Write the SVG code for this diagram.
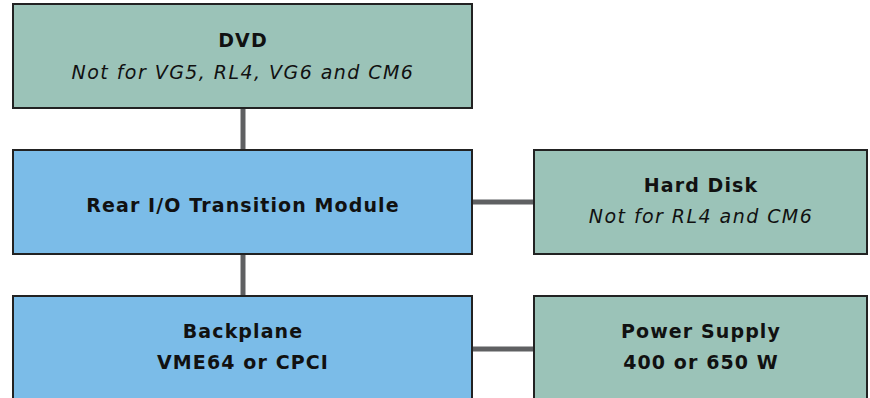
<svg xmlns="http://www.w3.org/2000/svg" width="870" height="398" viewBox="0 0 870 398">
<style>
.g{fill:#9bc3b8;stroke:#222;stroke-width:2}
.b{fill:#7bbce8;stroke:#222;stroke-width:2}
.t{font-family:"DejaVu Sans",sans-serif;font-size:19px;fill:#111;text-anchor:middle}
.bo{font-weight:bold;letter-spacing:1.1px}
.it{font-style:italic;letter-spacing:1.45px}
.c{stroke:#5f6062;stroke-width:5;fill:none}
</style>
<rect width="870" height="398" fill="#fff"/>
<g id="connectors">
<line class="c" x1="243" y1="108" x2="243" y2="150"/>
<line class="c" x1="243" y1="254" x2="243" y2="296"/>
<line class="c" x1="472" y1="202" x2="534" y2="202"/>
<line class="c" x1="472" y1="349" x2="534" y2="349"/>
</g>
<g id="dvd">
<rect class="g" x="13" y="4" width="459" height="104"/>
<text class="t bo" x="243" y="47">DVD</text>
<text class="t it" x="243" y="79">Not for VG5, RL4, VG6 and CM6</text>
</g>
<g id="rear">
<rect class="b" x="13" y="150" width="459" height="104"/>
<text class="t bo" x="243" y="212">Rear I/O Transition Module</text>
</g>
<g id="hdd">
<rect class="g" x="534" y="150" width="333" height="104"/>
<text class="t bo" x="701" y="192">Hard Disk</text>
<text class="t it" x="701" y="223">Not for RL4 and CM6</text>
</g>
<g id="backplane">
<rect class="b" x="13" y="296" width="459" height="110"/>
<text class="t bo" x="243" y="338">Backplane</text>
<text class="t bo" x="243" y="369">VME64 or CPCI</text>
</g>
<g id="psu">
<rect class="g" x="534" y="296" width="333" height="110"/>
<text class="t bo" x="701" y="338">Power Supply</text>
<text class="t bo" x="701" y="369">400 or 650 W</text>
</g>
</svg>
